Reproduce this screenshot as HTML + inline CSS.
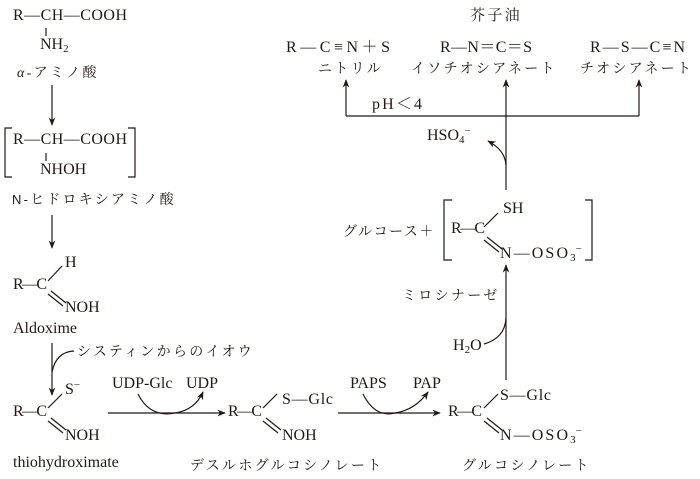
<!DOCTYPE html>
<html><head><meta charset="utf-8"><style>
html,body{margin:0;padding:0;background:#fff;}
svg{display:block;}
text{font-family:"Liberation Serif","Noto Serif CJK SC",serif;font-size:16px;fill:#231815;}
.j{font-family:"Liberation Serif","Noto Serif CJK SC",serif;font-size:14px;letter-spacing:2.3px;}
.s{font-size:11px;}
</style></head><body>
<svg width="700" height="479" viewBox="0 0 700 479" xmlns="http://www.w3.org/2000/svg">
<defs><marker id="a" viewBox="0 0 10 10" refX="9" refY="5" markerWidth="7" markerHeight="7" orient="auto-start-reverse"><path d="M0,1 L10,5 L0,9 L3,5z" fill="#231815"/></marker></defs>
<g stroke="#231815" stroke-width="1.2" fill="none">
<line x1="46" y1="28" x2="46" y2="36"/>
<line x1="52" y1="85" x2="52" y2="125" marker-end="url(#a)"/>
<path d="M12,128 H5 V177 H12"/><path d="M128,128 H135 V177 H128"/>
<line x1="46" y1="153" x2="46" y2="161"/>
<line x1="52" y1="215" x2="52" y2="248" marker-end="url(#a)"/>
<line x1="48" y1="281" x2="62" y2="266"/>
<line x1="48" y1="294" x2="63" y2="306"/><line x1="51" y1="291" x2="66" y2="303"/>
<line x1="52" y1="343" x2="52" y2="395" marker-end="url(#a)"/>
<path d="M74,351 Q56,352 52,372"/>
<line x1="48" y1="408" x2="62" y2="394"/>
<line x1="48" y1="421" x2="63" y2="433"/><line x1="51" y1="418" x2="66" y2="430"/>
<line x1="108" y1="413" x2="225" y2="413" marker-end="url(#a)"/>
<path d="M138,394 Q150,418 175,413 Q195,410 203,392" marker-end="url(#a)"/>
<line x1="263" y1="408" x2="277" y2="394"/>
<line x1="263" y1="421" x2="278" y2="433"/><line x1="266" y1="418" x2="281" y2="430"/>
<line x1="338" y1="413" x2="440" y2="413" marker-end="url(#a)"/>
<path d="M363,394 Q375,418 395,413 Q415,410 428,392" marker-end="url(#a)"/>
<line x1="484" y1="408" x2="498" y2="394"/>
<line x1="484" y1="421" x2="499" y2="433"/><line x1="487" y1="418" x2="502" y2="430"/>
<line x1="506" y1="380" x2="506" y2="265" marker-end="url(#a)"/>
<path d="M484,344 Q505,338 506,318"/>
<path d="M452,200 H444 V260 H452"/><path d="M585,200 H592 V260 H585"/>
<line x1="484" y1="227" x2="498" y2="213"/>
<line x1="484" y1="240" x2="499" y2="252"/><line x1="487" y1="237" x2="502" y2="249"/>
<line x1="506" y1="190" x2="506" y2="80" marker-end="url(#a)"/>
<path d="M506,165 Q505,150 488,141" marker-end="url(#a)"/>
<path d="M346,116 H639"/>
<line x1="346" y1="116" x2="346" y2="80" marker-end="url(#a)"/>
<line x1="639" y1="116" x2="639" y2="80" marker-end="url(#a)"/>
</g>
<text x="13" y="20" textLength="114">R—CH—COOH</text>
<text x="40" y="49">NH<tspan class="s" dy="3">2</tspan></text>
<text x="17" y="77" class="j"><tspan font-style="italic">α</tspan>-アミノ酸</text>
<text x="13" y="144" textLength="114">R—CH—COOH</text>
<text x="40" y="174">NHOH</text>
<text x="12" y="204" class="j" style="letter-spacing:2.2px"><tspan font-family="Liberation Sans" font-size="13">N-</tspan>ヒドロキシアミノ酸</text>
<text x="65" y="267">H</text>
<text x="13" y="289" textLength="34">R—C</text>
<text x="65" y="312">NOH</text>
<text x="13" y="333">Aldoxime</text>
<text x="77" y="356" class="j">システィンからのイオウ</text>
<text x="65" y="394">S<tspan class="s" dy="-6">−</tspan></text>
<text x="13" y="416" textLength="34">R—C</text>
<text x="65" y="440">NOH</text>
<text x="13" y="467">thiohydroximate</text>
<text x="112" y="388">UDP-Glc</text><text x="186" y="388">UDP</text>
<text x="228" y="416" textLength="34">R—C</text>
<text x="282" y="404" textLength="51">S—Glc</text>
<text x="282" y="440">NOH</text>
<text x="190" y="470" class="j">デスルホグルコシノレート</text>
<text x="350" y="388">PAPS</text><text x="413" y="388">PAP</text>
<text x="448" y="416" textLength="34">R—C</text>
<text x="500" y="400" textLength="51">S—Glc</text>
<text x="500" y="440"><tspan textLength="68">N—OSO</tspan><tspan class="s" dy="3">3</tspan><tspan class="s" dy="-9">−</tspan></text>
<text x="462" y="470" class="j">グルコシノレート</text>
<text x="453" y="350">H<tspan class="s" dy="3">2</tspan><tspan dy="-3">O</tspan></text>
<text x="402" y="300" class="j">ミロシナーゼ</text>
<text x="343" y="236" class="j" style="letter-spacing:1.5px">グルコース＋</text>
<text x="451" y="233" textLength="34">R—C</text>
<text x="503" y="213">SH</text>
<text x="500" y="258"><tspan textLength="68">N—OSO</tspan><tspan class="s" dy="3">3</tspan><tspan class="s" dy="-9">−</tspan></text>
<text x="427" y="140">HSO<tspan class="s" dy="3">4</tspan><tspan class="s" dy="-9">−</tspan></text>
<text x="372" y="109" textLength="50">pH＜4</text>
<text x="470" y="20" class="j" style="font-size:15px">芥子油</text>
<text x="286" y="52" textLength="104">R—C≡N＋S</text>
<text x="440" y="52" textLength="92">R—N＝C＝S</text>
<text x="590" y="52" textLength="95">R—S—C≡N</text>
<text x="318" y="73" class="j">ニトリル</text>
<text x="411" y="73" class="j">イソチオシアネート</text>
<text x="580" y="73" class="j">チオシアネート</text>
</svg>
</body></html>
